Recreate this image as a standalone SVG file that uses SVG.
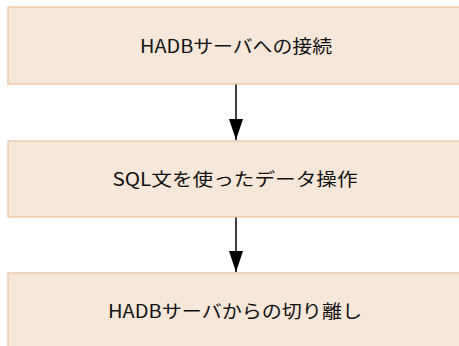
<svg xmlns="http://www.w3.org/2000/svg" width="459" height="346" viewBox="0 0 459 346">
<style>
.box{fill:#F7E7D8;stroke:#EDCBAA;stroke-width:1.5}
.lbl{font-family:"Noto Sans CJK JP","Noto Sans",sans-serif;font-size:18px;fill:#111;text-anchor:middle;dominant-baseline:central}
.conn{stroke:#000;stroke-width:1.5;fill:none}
</style>
<defs>
<marker id="ah" markerUnits="userSpaceOnUse" markerWidth="21" markerHeight="14" refX="21" refY="7" orient="auto">
<path d="M0,0 L21,7 L0,14 Z" fill="#000"/>
</marker>
</defs>
<rect width="459" height="346" fill="#fff"/>
<g id="node1">
<rect class="box" x="8" y="7" width="460" height="77"/>
<text class="lbl" x="236" y="45" textLength="192" lengthAdjust="spacingAndGlyphs">HADBサーバへの接続</text>
</g>
<g id="node2">
<rect class="box" x="8" y="141" width="460" height="76"/>
<text class="lbl" x="235" y="178" textLength="245" lengthAdjust="spacingAndGlyphs">SQL文を使ったデータ操作</text>
</g>
<g id="node3">
<rect class="box" x="8" y="273" width="460" height="90"/>
<text class="lbl" x="235" y="310" textLength="254" lengthAdjust="spacingAndGlyphs">HADBサーバからの切り離し</text>
</g>
<g id="connectors">
<line class="conn" x1="236" y1="84.5" x2="236" y2="140" marker-end="url(#ah)"/>
<line class="conn" x1="236" y1="217.5" x2="236" y2="272" marker-end="url(#ah)"/>
</g>
</svg>
